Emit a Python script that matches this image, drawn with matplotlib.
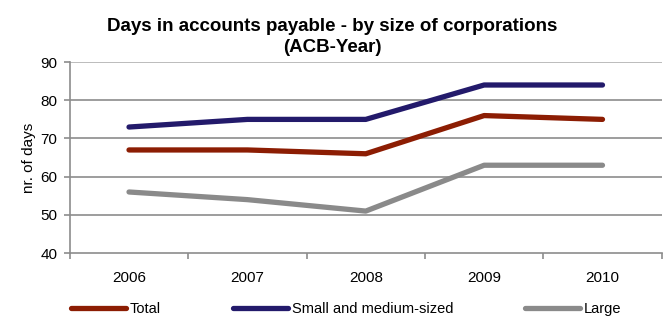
import matplotlib
matplotlib.use("Agg")
import matplotlib.pyplot as plt
import numpy as np

# ----------------------------------------------------------
# Data
# ----------------------------------------------------------

years = ["2006", "2007", "2008", "2009", "2010"]

total = [67, 67, 66, 76, 75]
small_medium = [73, 75, 75, 84, 84]
large = [56, 54, 51, 63, 63]

plt.rcParams["font.family"] = ["Liberation Sans", "DejaVu Sans"]

fig = plt.figure(figsize=(6.65, 3.2), dpi=100)
ax = fig.add_axes([0.105, 0.209, 0.89, 0.597])

x = np.arange(len(years))

ax.plot(x, total, color="#8c1d03", lw=3.8, solid_capstyle="round", label="Total", zorder=3)
ax.plot(x, small_medium, color="#231a6b", lw=3.8, solid_capstyle="round",
        label="Small and medium-sized", zorder=3)
ax.plot(x, large, color="#8a8a8a", lw=3.8, solid_capstyle="round", label="Large", zorder=3)

ax.set_xlim(-0.5, 4.5)
ax.set_ylim(40, 90)
ax.set_yticks(range(40, 91, 10))

# gridlines
for v in range(50, 91, 10):
    ax.axhline(v, color="#b0b0b0" if v == 90 else "#8c8c8c", lw=1.2, zorder=1)

ax.set_xticks(x)
ax.set_xticklabels(years)
ax.set_xticks(np.arange(-0.5, 4.6, 1), minor=True)
ax.tick_params(axis="x", which="major", length=0, pad=13, labelsize=11)
ax.tick_params(axis="x", which="minor", length=4, color="#8c8c8c", width=1.2, direction="out")
ax.tick_params(axis="y", length=4, color="#8c8c8c", width=1.2, labelsize=11, pad=5)

for side in ["top", "right"]:
    ax.spines[side].set_visible(False)
for side in ["left", "bottom"]:
    ax.spines[side].set_color("#8c8c8c")
    ax.spines[side].set_linewidth(1.2)

ax.set_ylabel("nr. of days", fontsize=11, labelpad=3)

fig.text(0.5, 0.885, "Days in accounts payable - by size of corporations\n(ACB-Year)",
         ha="center", va="center", fontsize=13.5, fontweight="bold", linespacing=1.3)

fig.legend(loc="lower left", bbox_to_anchor=(0.087, -0.03), ncol=3, frameon=False,
           fontsize=10.5, handlelength=3.8, handletextpad=0.25, columnspacing=4.9)

fig.savefig("out.png", dpi=100)
